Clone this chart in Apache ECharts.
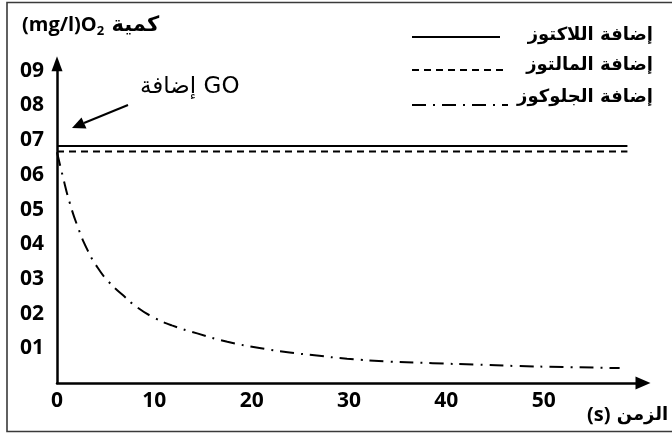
<!DOCTYPE html>
<html>
<head>
<meta charset="utf-8">
<script src="https://cdn.jsdelivr.net/npm/echarts@6/dist/echarts.min.js"></script>
<style>
  html, body { margin: 0; padding: 0; background: #fff; }
  #chart { width: 672px; height: 434px; }
</style>
</head>
<body>
<div id="chart"></div>
<script>
// Series names (as shown in the key)
const seriesNames = ['إضافة اللاكتوز', 'إضافة المالتوز', 'إضافة الجلوكوز'];

// Time (s) and dissolved O2 (mg/l) for each added sugar
const lactoseTime = [0, 58.6];
const lactoseO2 = [6.83, 6.83];
const maltoseTime = [0, 58.6];
const maltoseO2 = [6.67, 6.67];
const glucoseTime = [0, 0.6, 1.3, 2.2, 3.1, 4, 5.2, 6.7, 8.3, 10, 11.8, 14.4, 17.5, 20.8, 23.9, 26.7, 29.8, 34, 38.6, 43, 47.2, 52, 57.8];
const glucoseO2 = [6.65, 5.95, 5.2, 4.45, 3.85, 3.4, 2.95, 2.55, 2.17, 1.88, 1.66, 1.43, 1.19, 1.01, 0.88, 0.79, 0.70, 0.62, 0.57, 0.53, 0.49, 0.46, 0.43];

// Axis tick labels
const xTickLabels = [0, 10, 20, 30, 40, 50];
const yTickLabels = ['01', '02', '03', '04', '05', '06', '07', '08', '09'];

const zip = (xs, ys) => xs.map((x, i) => [x, ys[i]]);

const FONT = "'Open Sans', 'DejaVu Sans', sans-serif";
const AR_FONT = "'DejaVu Sans', 'Open Sans', sans-serif";

const chart = echarts.init(document.getElementById('chart'), null, { renderer: 'canvas' });

const dashDot = [14, 7, 2, 7];

chart.setOption({
  animation: false,
  backgroundColor: '#fff',
  grid: { left: 57, right: 29, top: 63.8, bottom: 51, containLabel: false },
  xAxis: {
    type: 'value',
    min: 0,
    max: 60.2,
    interval: 10,
    axisLine: {
      show: true,
      onZero: false,
      symbol: ['none', 'triangle'],
      symbolSize: [13, 15],
      lineStyle: { color: '#000', width: 2.5 }
    },
    axisTick: { show: false },
    splitLine: { show: false },
    axisLabel: {
      margin: 8,
      color: '#000',
      fontFamily: FONT,
      fontWeight: 'bold',
      fontSize: 21,
      formatter: v => (xTickLabels.indexOf(v) >= 0 ? String(v) : '')
    }
  },
  yAxis: {
    type: 'value',
    min: 0,
    max: 9.2,
    interval: 1,
    axisLine: {
      show: true,
      onZero: false,
      symbol: ['none', 'triangle'],
      symbolSize: [11, 15],
      lineStyle: { color: '#000', width: 2.5 }
    },
    axisTick: { show: false },
    splitLine: { show: false },
    axisLabel: {
      margin: 13,
      color: '#000',
      fontFamily: FONT,
      fontWeight: 'bold',
      fontSize: 21,
      formatter: v => (Number.isInteger(v) && v >= 1 && v <= 9 ? yTickLabels[v - 1] : '')
    }
  },
  series: [
    {
      name: seriesNames[0],
      type: 'line',
      data: zip(lactoseTime, lactoseO2),
      symbol: 'none',
      lineStyle: { color: '#000', width: 2, type: 'solid' }
    },
    {
      name: seriesNames[1],
      type: 'line',
      data: zip(maltoseTime, maltoseO2),
      symbol: 'none',
      lineStyle: { color: '#000', width: 2, type: [7, 5] }
    },
    {
      name: seriesNames[2],
      type: 'line',
      data: zip(glucoseTime, glucoseO2),
      symbol: 'none',
      smooth: 0.5,
      lineStyle: { color: '#000', width: 2, type: dashDot }
    }
  ],
  graphic: [
    // outer frame
    {
      type: 'rect', silent: true,
      shape: { x: 7, y: 2.5, width: 700, height: 429 },
      style: { fill: 'none', stroke: '#3a3a3a', lineWidth: 1.6 }
    },
    // y-axis title
    {
      type: 'text', left: 22, top: 15,
      style: {
        text: '{a|(mg/l)O}{s|2}{c| كمية}',
        rich: {
          a: { fontFamily: FONT, fontWeight: 'bold', fontSize: 20, fill: '#000' },
          s: { fontFamily: FONT, fontWeight: 'bold', fontSize: 13, fill: '#000', padding: [11, 0, 0, 0] },
          c: { fontFamily: AR_FONT, fontWeight: 'bold', fontSize: 21, fill: '#000' }
        }
      }
    },
    // x-axis title
    {
      type: 'text', left: 587, top: 405,
      style: {
        text: '{b|(s)}{a| الزمن}',
        rich: {
          b: { fontFamily: FONT, fontWeight: 'bold', fontSize: 20, fill: '#000' },
          a: { fontFamily: AR_FONT, fontWeight: 'bold', fontSize: 18, fill: '#000' }
        }
      }
    },
    // GO annotation
    {
      type: 'text', left: 140, top: 76,
      style: { text: 'إضافة GO', fontFamily: AR_FONT, fontSize: 23, fill: '#000' }
    },
    {
      type: 'line', silent: true,
      shape: { x1: 128, y1: 105, x2: 84, y2: 123 },
      style: { stroke: '#000', lineWidth: 2 }
    },
    {
      type: 'polygon', silent: true,
      shape: { points: [[72, 128], [86.5, 128.5], [81.5, 117.5]] },
      style: { fill: '#000' }
    },
    // key
    {
      type: 'text', right: 19, top: 26,
      style: { text: seriesNames[0], fontFamily: AR_FONT, fontWeight: 'bold', fontSize: 18, fill: '#000' }
    },
    {
      type: 'text', right: 19, top: 56,
      style: { text: seriesNames[1], fontFamily: AR_FONT, fontWeight: 'bold', fontSize: 18, fill: '#000' }
    },
    {
      type: 'text', right: 19, top: 88,
      style: { text: seriesNames[2], fontFamily: AR_FONT, fontWeight: 'bold', fontSize: 18, fill: '#000' }
    },
    {
      type: 'line', silent: true,
      shape: { x1: 412, y1: 37, x2: 500, y2: 37 },
      style: { stroke: '#000', lineWidth: 2 }
    },
    {
      type: 'line', silent: true,
      shape: { x1: 412, y1: 70, x2: 505, y2: 70 },
      style: { stroke: '#000', lineWidth: 2, lineDash: [7, 5] }
    },
    {
      type: 'line', silent: true,
      shape: { x1: 412, y1: 105, x2: 508, y2: 105 },
      style: { stroke: '#000', lineWidth: 2, lineDash: [14, 7, 2, 7] }
    }
  ]
});
</script>
</body>
</html>
